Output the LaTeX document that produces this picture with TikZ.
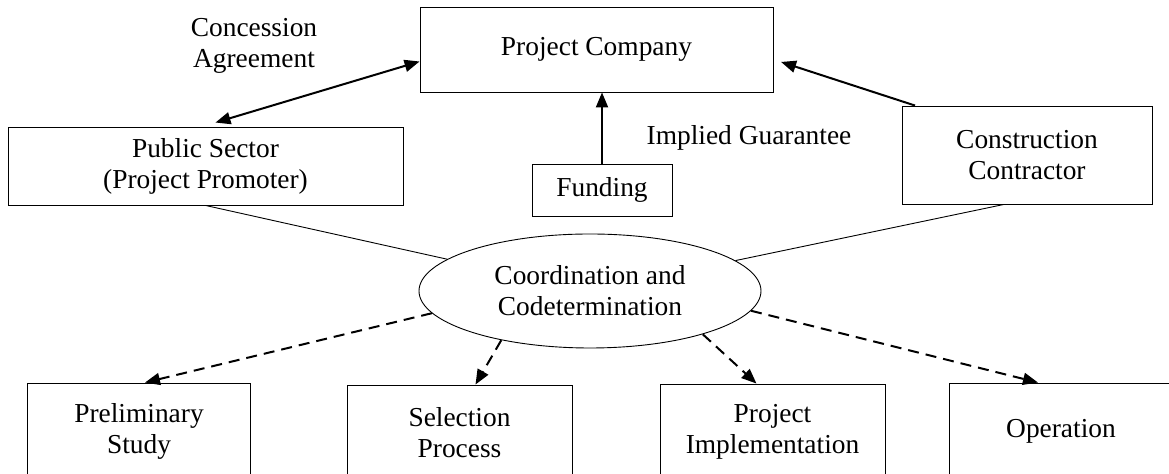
\documentclass[tikz,border=0pt]{standalone}
\usepackage{fontspec}
\setmainfont{Liberation Serif}
\usetikzlibrary{shapes.geometric,arrows.meta}

\begin{document}
\begin{tikzpicture}[x=0.5pt,y=-0.5pt,
  font=\fontsize{13.7}{15.5}\selectfont,
  box/.style={draw,line width=0.45pt,align=center,inner sep=0pt},
  tie/.style={line width=0.45pt},
  solidarrow/.style={line width=1pt,-{Triangle[length=7.5pt,width=6pt]}},
  twoway/.style={line width=1pt,{Triangle[length=7.5pt,width=6pt]}-{Triangle[length=7.5pt,width=6pt]}},
  dasharrow/.style={line width=1pt,dash pattern=on 5.5pt off 3.5pt,-{Triangle[length=7.5pt,width=6pt]}}]
  \clip (0,0) rectangle (1169,474);

  \node[box,minimum width=176.5pt,minimum height=42.5pt] (company) at (596.5,49.5) {Project Company};
  \node[box,minimum width=197.5pt,minimum height=39pt] (public) at (205.5,166) {Public Sector\\(Project Promoter)};
  \node[box,minimum width=70pt,minimum height=26pt] (funding) at (602,190) {Funding};
  \node[box,minimum width=125pt,minimum height=49pt] (contractor) at (1027,155) {Construction\\Contractor};
  \node[draw,ellipse,line width=0.45pt,align=center,inner sep=0pt,minimum width=171pt,minimum height=57pt] (coord) at (590,291) {Coordination and\\Codetermination};

  \node[align=center] (concession) at (254,46) {Concession\\Agreement};
  \node (guarantee) at (749,138) {Implied Guarantee};

  \node[box,minimum width=111.5pt,minimum height=48pt] (prelim) at (139,431) {Preliminary\\Study};
  \node[box,minimum width=112.5pt,minimum height=48pt] (select) at (459.5,433) {Selection\\Process};
  \node[box,minimum width=112.5pt,minimum height=48pt] (implement) at (772.5,432) {Project\\Implementation};
  \node[box,minimum width=112pt,minimum height=48pt] (operation) at (1061,431) {Operation};

  \draw[twoway] ([xshift=5pt,yshift=2pt]public.north) -- ([yshift=-6pt]company.west);
  \draw[solidarrow] (funding.north) -- (funding.north |- company.south);
  \draw[solidarrow,shorten >=4pt] ([xshift=-56pt]contractor.north) -- ([yshift=-5pt]company.east);

  \draw[tie] (public.south) -- (coord);
  \draw[tie] (contractor.245) -- (coord);

  \draw[dasharrow] (coord.188) -- ([xshift=3pt]prelim.north);
  \draw[dasharrow] (coord.209) -- ([xshift=8pt]select.north);
  \draw[dasharrow] (coord.339) -- ([xshift=-8pt]implement.north);
  \draw[dasharrow] (coord.353) -- ([xshift=-11.5pt]operation.north);
\end{tikzpicture}
\end{document}
